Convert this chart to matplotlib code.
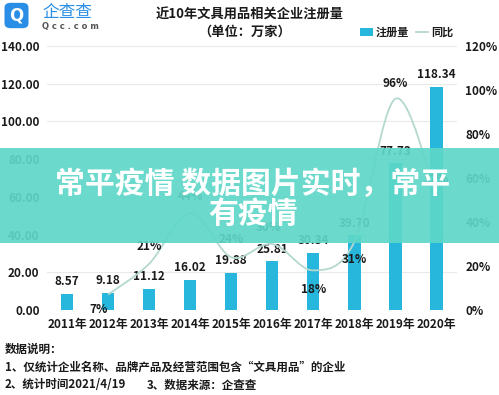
import matplotlib
matplotlib.use("Agg")
import matplotlib.pyplot as plt
import numpy as np
from matplotlib.patches import Rectangle, FancyBboxPatch, PathPatch, Patch
from matplotlib.lines import Line2D
from matplotlib.path import Path

plt.rcParams['font.family'] = ['Noto Sans CJK SC', 'DejaVu Sans']

years = ['2011年', '2012年', '2013年', '2014年', '2015年', '2016年', '2017年', '2018年', '2019年', '2020年']
registrations = [8.57, 9.18, 11.12, 16.02, 19.88, 25.81, 30.34, 39.70, 77.73, 118.34]
yoy_years_idx = [1, 2, 3, 4, 5, 6, 7, 8, 9]
yoy = [7, 21, 44, 24, 30, 18, 31, 96, 52]
left_ticks = [0, 20, 40, 60, 80, 100, 120, 140]
right_ticks = [0, 20, 40, 60, 80, 100, 120]

BAR = '#27b6dc'
LINE = '#b4d8cf'
TXT = '#1a1a1a'

fig = plt.figure(figsize=(4.99, 3.95), dpi=100)
W, H = 499, 395
ax = fig.add_axes([46.5 / W, (H - 310) / H, (457 - 46.5) / W, (310 - 46) / H])
ax2 = ax.twinx()

x = np.arange(len(years))
ax.bar(x, registrations, width=0.3, color=BAR, zorder=2)
ax.set_xlim(-0.5, 9.5)
ax.set_ylim(0, 140)
ax.set_yticks(left_ticks)
ax.set_yticklabels([f'{v:.2f}' for v in left_ticks])
ax.set_xticks(x)
ax.set_xticklabels(years)
ax.grid(axis='y', color='#e9e9e9', lw=0.8, zorder=0)
ax.set_axisbelow(True)
for s in ax.spines.values():
    s.set_visible(False)
ax.tick_params(axis='both', length=0, labelsize=8.5, colors=TXT)
ax.tick_params(axis='y', pad=5)
ax.tick_params(axis='x', pad=6)
for lab in ax.get_xticklabels() + ax.get_yticklabels():
    lab.set_fontweight('bold')

for xi, v in zip(x, registrations):
    ax.annotate(f'{v:.2f}', (xi, v), xytext=(0, 4), textcoords='offset points',
                ha='center', va='bottom', fontsize=8.5, fontweight='bold', color=TXT)

ax2.set_ylim(0, 120)
ax2.set_yticks(right_ticks)
ax2.set_yticklabels([f'{v}%' for v in right_ticks])
for s in ax2.spines.values():
    s.set_visible(False)
ax2.tick_params(axis='y', length=0, labelsize=8.5, colors=TXT, pad=6)
for lab in ax2.get_yticklabels():
    lab.set_fontweight('bold')

# smooth line through yoy points (Catmull-Rom rendered as cubic Bezier)
px = np.array(yoy_years_idx, dtype=float)
py = np.array(yoy, dtype=float)
verts = [(px[0], py[0])]
codes = [Path.MOVETO]
n = len(px)
for i in range(n - 1):
    p0 = np.array([px[max(i - 1, 0)], py[max(i - 1, 0)]])
    p1 = np.array([px[i], py[i]])
    p2 = np.array([px[i + 1], py[i + 1]])
    p3 = np.array([px[min(i + 2, n - 1)], py[min(i + 2, n - 1)]])
    c1 = p1 + (p2 - p0) / 6.0
    c2 = p2 - (p3 - p1) / 6.0
    verts += [tuple(c1), tuple(c2), tuple(p2)]
    codes += [Path.CURVE4] * 3
ax2.add_patch(PathPatch(Path(verts, codes), fill=False, edgecolor=LINE, lw=1.3, zorder=3))

offsets = [(-7, -6), (0, 8), (0, 7), (0, 8), (-3, 7), (0, -9), (0, -8), (0, 6), (0, 7)]
for xi, v, (dx, dy) in zip(px, py, offsets):
    ax2.annotate(f'{int(v)}%', (xi, v), xytext=(dx, dy), textcoords='offset points',
                 ha='center', va='bottom' if dy > 0 else 'top', fontsize=8.5,
                 fontweight='bold', color=TXT, zorder=4)

# titles
fig.text(250 / W, 1 - 15 / H, '近10年文具用品相关企业注册量', ha='center', va='center',
         fontsize=9.5, fontweight='bold', color=TXT)
fig.text(245 / W, 1 - 32 / H, '（单位：万家）', ha='center', va='center',
         fontsize=9.5, fontweight='bold', color=TXT)

# legend
handles = [Patch(facecolor=BAR, edgecolor='none'), Line2D([0], [0], color=LINE, lw=1.3)]
fig.legend(handles, ['注册量', '同比'], loc='center', bbox_to_anchor=(407 / W, 1 - 32 / H),
           ncol=2, frameon=False, prop={'size': 8, 'weight': 'bold'}, handlelength=1.1,
           handleheight=0.7, columnspacing=0.6, handletextpad=0.3, labelcolor=TXT)

# logo
fig.add_artist(FancyBboxPatch((6 / W, 1 - 27 / H), 21 / W, 23 / H,
                              boxstyle='round,pad=0.003,rounding_size=0.012',
                              transform=fig.transFigure, facecolor='#2a8ee6', edgecolor='none'))
fig.text(16.5 / W, 1 - 15.5 / H, 'Q', ha='center', va='center', fontsize=12,
         fontweight='bold', color='white', family='DejaVu Sans')
fig.text(42 / W, 1 - 13 / H, '企查查', ha='left', va='center', fontsize=12,
         color='#2a8ee6')
fig.text(42 / W, 1 - 27 / H, 'Q c c . c o m', ha='left', va='center', fontsize=6,
         color='#555555', family='DejaVu Sans', fontweight='bold')

# notes
fig.text(5 / W, 1 - 349 / H, '数据说明：', ha='left', va='center', fontsize=8.3,
         fontweight='bold', color=TXT)
fig.text(5 / W, 1 - 367 / H, '1、仅统计企业名称、品牌产品及经营范围包含“文具用品”的企业',
         ha='left', va='center', fontsize=8.3, fontweight='bold', color=TXT)
fig.text(5 / W, 1 - 385 / H, '2、统计时间2021/4/19', ha='left', va='center', fontsize=8.3,
         fontweight='bold', color=TXT)
fig.text(147 / W, 1 - 385 / H, '3、数据来源：企查查', ha='left', va='center', fontsize=8.3,
         fontweight='bold', color=TXT)

# banner overlay
fig.add_artist(Rectangle((0, (H - 243) / H), 1, 95 / H, transform=fig.transFigure,
                         facecolor='#5ed7c8', edgecolor='none', alpha=0.92, zorder=10))
fig.text(253 / W, 1 - 199 / H, '常平疫情 数据图片实时，常平\n有疫情', ha='center', va='center',
         fontsize=21.5, fontweight='heavy', color='white', linespacing=1.02, zorder=11)

fig.savefig('out.png', dpi=100)
